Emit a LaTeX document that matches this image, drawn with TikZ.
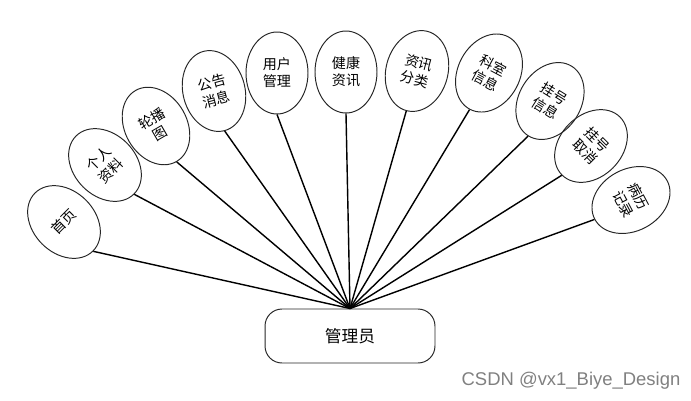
\documentclass[tikz,border=0pt]{standalone}
\usepackage{fontspec}
\newfontfamily\cjk{Noto Sans CJK SC}
\setsansfont{Liberation Sans}
\usetikzlibrary{shapes.geometric}

\begin{document}
\begin{tikzpicture}[
  x=0.02cm, y=-0.02cm,
  font=\cjk\fontsize{8}{9.8}\selectfont,
  func/.style={
    ellipse, draw=black!85, line width=0.55pt,
    minimum width=1.24cm, minimum height=1.64cm,
    inner sep=1pt, align=center
  },
  role/.style={
    rectangle, rounded corners=0.34cm, draw=black!85, line width=0.55pt,
    minimum width=3.4cm, minimum height=1.08cm,
    font=\cjk\fontsize{9.5}{11}\selectfont
  },
  link/.style={line width=0.8pt, color=black}
]
\useasboundingbox (0,0) rectangle (691,400);

\node[role] (admin) at (350,336) {管理员};

\node[func, rotate=45] (shouye) at (64,222) {首页};
\node[func, rotate=45] (geren) at (105,165) {个人\\资料};
\node[func, rotate=30] (lunbo) at (156,126) {轮播\\图};
\node[func, rotate=15] (gonggao) at (214,91) {公告\\消息};
\node[func] (yonghu) at (277,73) {用户\\管理};
\node[func] (jiankang) at (346,72) {健康\\资讯};
\node[func, rotate=-15] (zixun) at (417,71) {资讯\\分类};
\node[func, rotate=-28] (keshi) at (489,73) {科室\\信息};
\node[func, rotate=-32] (guahao) at (550,101) {挂号\\信息};
\node[func, rotate=-45] (quxiao) at (591,146) {挂号\\取消};
\node[func, rotate=-62] (bingli) at (631,200) {病历\\记录};

\foreach \n in {shouye,geren,lunbo,gonggao,yonghu,jiankang,zixun,keshi,guahao,quxiao,bingli} {
  \draw[link] (admin.north) -- (\n.south);
}

\node[font=\sffamily\fontsize{10.5}{12}\selectfont, color=black!50] (watermark) at (571,381) {CSDN @vx1\_Biye\_Design};
\end{tikzpicture}
\end{document}
